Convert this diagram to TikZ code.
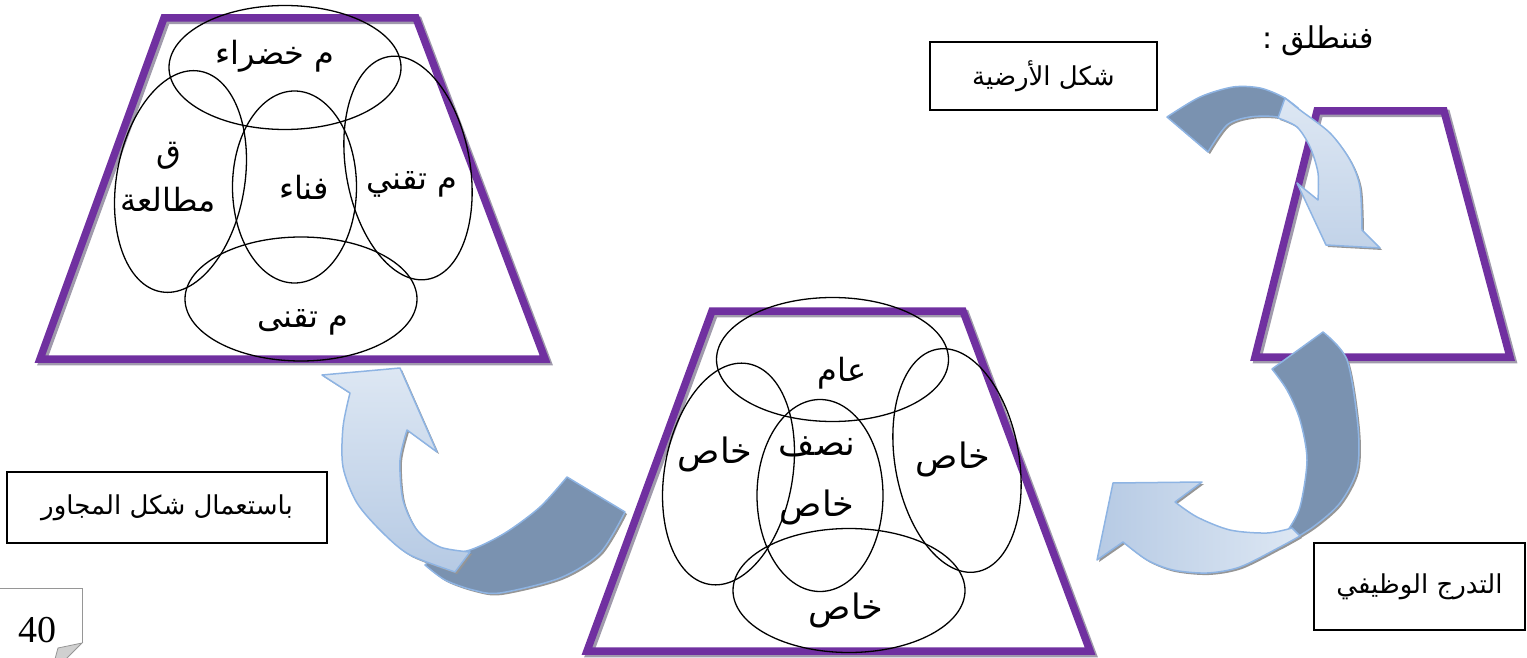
\documentclass[tikz,border=0pt]{standalone}
\usepackage{fontspec}
\newfontfamily\arabicfont[Script=Arabic]{DejaVu Sans}
\newfontfamily\numfont{Liberation Serif}
\TeXXeTstate=1
\usepackage{tikz}

\definecolor{trapviolet}{RGB}{112,48,160}
\definecolor{trapshade}{RGB}{160,154,172}
\definecolor{arrowdark}{RGB}{122,146,176}
\definecolor{arrowedge}{RGB}{142,180,227}
\definecolor{arrowpale}{RGB}{221,231,243}
\definecolor{arrowmid}{RGB}{182,202,228}
\definecolor{arrowshade}{RGB}{150,150,150}
\definecolor{pagegray}{RGB}{150,150,150}

\tikzset{
	trap/.style={draw=trapviolet, line width=7.5pt,
		preaction={draw=trapshade, line width=7.5pt, transform canvas={shift={(2.5pt,-2.5pt)}}}},
	venn/.style={draw=black, line width=1.3pt},
	lbl/.style={font=\arabicfont\fontsize{32}{36}\selectfont, inner sep=0pt},
	lblbig/.style={font=\arabicfont\fontsize{35}{40}\selectfont, inner sep=0pt},
	tagbox/.style={draw=black, line width=1.6pt, inner sep=0pt, font=\arabicfont\fontsize{26}{30}\selectfont},
	backband/.style={fill=arrowdark, draw=arrowedge, line width=1.5pt, line join=round,
		preaction={fill=arrowshade, transform canvas={shift={(2pt,-2pt)}}}},
	frontband/.style={draw=arrowedge, line width=1.5pt, line join=round,
		preaction={fill=arrowshade, transform canvas={shift={(2pt,-2pt)}}}}
}

\begin{document}
\begin{tikzpicture}[x=1pt, y=-1pt]
	\useasboundingbox (0,0) rectangle (1527,658);

	\draw[trap] (164,18) -- (416,18) -- (545,359) -- (40,359) -- cycle;
	\draw[trap] (712,311) -- (963,311) -- (1090,651) -- (587,651) -- cycle;
	\draw[trap] (1317,111) -- (1444,111) -- (1510,357) -- (1255,357) -- cycle;

	\draw[venn] (285,67.5) ellipse [x radius=116, y radius=62];
	\draw[venn, rotate around={-10:(180.5,181.5)}] (180.5,181.5) ellipse [x radius=64, y radius=112];
	\draw[venn] (294.5,187) ellipse [x radius=62, y radius=96];
	\draw[venn, rotate around={10:(408,168)}] (408,168) ellipse [x radius=62, y radius=113];
	\draw[venn] (301,299) ellipse [x radius=116, y radius=62];

	\draw[venn] (832.5,359.5) ellipse [x radius=116, y radius=62];
	\draw[venn, rotate around={-10:(728.5,474)}] (728.5,474) ellipse [x radius=64, y radius=112];
	\draw[venn] (820,495.5) ellipse [x radius=63, y radius=96];
	\draw[venn, rotate around={10:(957,460.5)}] (957,460.5) ellipse [x radius=62, y radius=113];
	\draw[venn] (849,590.5) ellipse [x radius=116, y radius=62];

	\node[lbl] (greenspace) at (275,56) {\beginR م خضراء\endR};
	\node[lbl] (hallq) at (169,156) {\beginR ق\endR};
	\node[lbl] (reading) at (168,200) {\beginR مطالعة\endR};
	\node[lbl] (courtyard) at (304,187) {\beginR فناء\endR};
	\node[lbl] (techone) at (412,184) {\beginR م تقني\endR};
	\node[lbl] (techtwo) at (303,322) {\beginR م تقنى\endR};

	\node[lbl] (public) at (842,373) {\beginR عام\endR};
	\node[lblbig] (privleft) at (715,454) {\beginR خاص\endR};
	\node[lblbig] (half) at (817,447) {\beginR نصف\endR};
	\node[lblbig] (halfpriv) at (817,507) {\beginR خاص\endR};
	\node[lblbig] (privright) at (953,459) {\beginR خاص\endR};
	\node[lblbig] (privbottom) at (846,610) {\beginR خاص\endR};

	\node[lbl, font=\arabicfont\fontsize{30}{34}\selectfont] (start) at (1318,41) {\beginR فننطلق :\endR};
	\node[tagbox, minimum width=227pt, minimum height=68pt] (ground) at (1043.5,76) {\beginR شكل الأرضية\endR};
	\node[tagbox, minimum width=211pt, minimum height=87pt] (hierarchy) at (1419.5,586.5) {\beginR التدرج الوظيفي\endR};
	\node[tagbox, minimum width=320pt, minimum height=71pt] (neighbour) at (167,507.5) {\beginR باستعمال شكل المجاور\endR};

	\draw[backband] plot[smooth] coordinates {(1167,117) (1200,97) (1233,87) (1260,88) (1283,97) (1298,108)}
		-- plot[smooth] coordinates {(1300,126) (1277,117) (1250,117) (1227,125) (1208,152)} -- cycle;
	\draw[frontband, top color=arrowpale, bottom color=arrowmid!70!arrowpale]
		plot[smooth] coordinates {(1285,98) (1300,110) (1330,133) (1350,160) (1360,187) (1362,230)}
		-- (1380,248) -- (1326,245) -- (1297,183)
		-- plot[smooth] coordinates {(1318,200) (1318,173) (1310,147) (1297,127) (1278,118)} -- cycle;

	\draw[backband] plot[smooth] coordinates {(1323,332) (1347,360) (1358,427) (1357,470) (1340,503) (1313,527) (1280,547)}
		-- plot[smooth] coordinates {(1288,530) (1300,507) (1307,460) (1300,420) (1287,390) (1272,369)} -- cycle;
	\draw[frontband, left color=arrowmid, right color=arrowpale]
		plot[smooth] coordinates {(1300,536) (1280,547) (1240,567) (1207,573) (1173,570) (1147,560) (1123,542)}
		-- (1097,560) -- (1113,483) -- (1202,482)
		-- plot[smooth] coordinates {(1175,502) (1197,517) (1230,530) (1267,533) (1292,528)} -- cycle;

	\draw[backband] plot[smooth] coordinates {(567,477) (540,507) (505,533) (470,550) (435,556)}
		-- plot[smooth] coordinates {(425,565) (445,580) (473,590) (500,593) (560,578) (600,553) (625,512)} -- cycle;
	\draw[frontband, top color=arrowpale, bottom color=arrowmid]
		plot[smooth] coordinates {(455,572) (410,555) (383,533) (357,503) (343,467) (343,427) (350,393)}
		-- (322,375) -- (400,368) -- (437,452)
		-- plot[smooth] coordinates {(407,430) (400,460) (403,500) (417,530) (440,547) (470,552)} -- cycle;

	\draw[pagegray, line width=0.8pt] (-2,588) -- (82,588) -- (82,643);
	\filldraw[fill=pagegray!45, draw=pagegray, line width=0.8pt] (82,643) .. controls (70,645) .. (58,648) -- (55,659) -- (66,659) -- cycle;
	\node[font=\numfont\fontsize{38}{40}\selectfont, inner sep=0pt] (pagenum) at (37,630) {40};
\end{tikzpicture}
\end{document}
